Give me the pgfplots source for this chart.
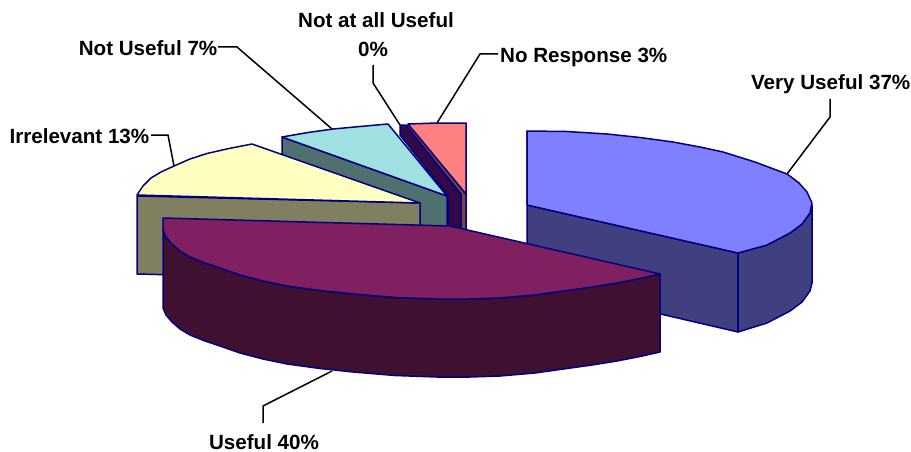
\documentclass[border=0pt]{standalone}
\usepackage{pgfplots}
\pgfplotsset{compat=1.18}
\usepackage{fontspec}
\setmainfont{Liberation Sans}
\definecolor{edge}{HTML}{000080}
\definecolor{noresp}{HTML}{FF8080}
\definecolor{norespside}{HTML}{804040}
\definecolor{notallside}{HTML}{320848}
\definecolor{notuse}{HTML}{A0E0E0}
\definecolor{notuseside}{HTML}{507070}
\definecolor{irrel}{HTML}{FFFFC0}
\definecolor{irrelside}{HTML}{808060}
\definecolor{very}{HTML}{8080FF}
\definecolor{veryside}{HTML}{404080}
\definecolor{useful}{HTML}{802060}
\definecolor{usefulside}{HTML}{401030}
\tikzset{
  slice/.style={draw=edge, line width=1.5pt, line join=round, fill=#1},
  leader/.style={draw=black, line width=1.5pt, line join=miter},
  lab/.style={font=\fontsize{20.6}{24}\selectfont\bfseries, inner sep=0pt, text=black},
}
\begin{document}
\begin{tikzpicture}
  \begin{axis}[
    hide axis,
    scale only axis,
    width=911pt,
    height=452pt,
    xmin=0,xmax=911,
    ymin=0,ymax=452,
    y dir=reverse,
    clip=false,
  ]
  \path[use as bounding box] (axis cs:0,0) rectangle (axis cs:911,452);

  % No Response
  \addplot[slice=norespside] coordinates {(407,127) (409,124) (466,194) (466,272) (461,272) (461,194)} --cycle;
  \addplot[slice=noresp] coordinates {(408,124) (437,123) (466,123) (466,194)} --cycle;
  % Not at all Useful
  \addplot[slice=notallside] coordinates {(400,125) (406,125) (461,195) (461,272) (448,272) (448,196) (400,135)} --cycle;
  % Not Useful
  \addplot[slice=notuseside] coordinates {(282,137) (447,196) (447,274) (282,215)} --cycle;
  \addplot[slice=notuse] coordinates {(282,137) (308,132.5) (333,129) (360,126.5) (388,124) (447,196)} --cycle;
  % Irrelevant
  \addplot[slice=irrelside] coordinates {(137,196) (420,203) (420,281) (137,274)} --cycle;
  \addplot[slice=irrel] coordinates {(137,195) (143,186) (151,178) (161,172) (174,166) (190,159) (207,153.5) (229,148.5) (252,144) (420,203)} --cycle;
  % Very Useful
  \addplot[slice=veryside] coordinates {(527,131) (527,205) (738,253) (738,332) (527,283)} --cycle;
  \addplot[slice=veryside] coordinates {(812,205) (810,213) (802,224) (790,233) (767,245) (738,253) (738,332) (767,323) (790,311) (802,302) (810,291) (812,283)} --cycle;
  \addplot[slice=very] coordinates {(527,131) (567,131.5) (607,134) (640,137.5) (673,142) (700,147) (723,152) (755,162) (787,174) (799,183) (807,192) (812,203) (810,213) (802,224) (790,233) (767,245) (738,253) (527,205)} --cycle;
  % Useful
  \addplot[slice=usefulside] coordinates {(163,230) (166,237) (172,244) (180,251) (190,257) (205,263) (220,268) (240,275) (263,281) (287,286) (320,290.5) (353,294) (395,297.5) (437,299) (470,299) (500,298) (535,295) (567,290.5) (592,287) (617,283) (640,278.5) (660,274) (660,352) (640,356.5) (617,361) (592,365) (567,368.5) (535,373) (500,376) (470,377) (437,377) (395,375.5) (353,372) (320,368.5) (287,364) (263,359) (240,353) (220,346) (205,341) (190,335) (180,329) (172,322) (166,315) (163,308)} --cycle;
  \addplot[slice=useful] coordinates {(163,218) (450,226) (660,274) (640,278.5) (617,283) (592,287) (567,290.5) (535,295) (500,298) (470,299) (437,299) (395,297.5) (353,294) (320,290.5) (287,286) (263,281) (240,275) (220,268) (205,263) (190,257) (180,251) (172,244) (166,237) (163,230)} --cycle;

  % leader lines
  \addplot[leader] coordinates {(830,99) (830,117) (787,174)};
  \addplot[leader] coordinates {(498,54) (480,54) (437,123)};
  \addplot[leader] coordinates {(373,65) (373,83) (400,125)};
  \addplot[leader] coordinates {(218,47) (237,47) (332,129)};
  \addplot[leader] coordinates {(151,135) (168,135) (174,166)};
  \addplot[leader] coordinates {(263,423) (263,406) (332,371)};

  \node[lab, anchor=east] at (axis cs:910.5,84) {Very Useful 37\%};
  \node[lab, anchor=west] at (axis cs:500,57) {No Response 3\%};
  \node[lab] at (axis cs:376,20.5) {Not at all Useful};
  \node[lab] at (axis cs:373,49.5) {0\%};
  \node[lab, anchor=east] at (axis cs:217.5,48) {Not Useful 7\%};
  \node[lab, anchor=east] at (axis cs:149.5,136) {Irrelevant 13\%};
  \node[lab] at (axis cs:264,442) {Useful 40\%};
  \end{axis}
\end{tikzpicture}
\end{document}
